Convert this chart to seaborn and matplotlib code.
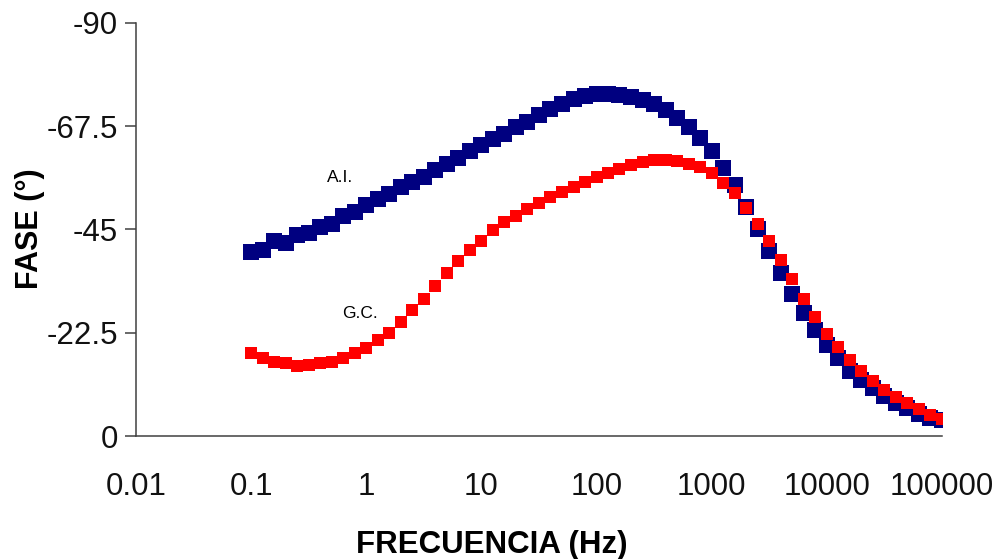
import matplotlib
matplotlib.use("Agg")
import matplotlib.pyplot as plt
import seaborn as sns
import pandas as pd

# Frequency grid (Hz), ten points per decade
freq_hz = [
    0.1, 0.126, 0.158, 0.2, 0.251, 0.316, 0.398, 0.501, 0.631, 0.794,
    1, 1.26, 1.58, 2.0, 2.51, 3.16, 3.98, 5.01, 6.31, 7.94,
    10, 12.6, 15.8, 20.0, 25.1, 31.6, 39.8, 50.1, 63.1, 79.4,
    100, 126, 158, 200, 251, 316, 398, 501, 631, 794,
    1000, 1259, 1585, 1995, 2512, 3162, 3981, 5012, 6310, 7943,
    10000, 12589, 15849, 19953, 25119, 31623, 39811, 50119, 63096, 79433,
    100000,
]

# Phase angle (degrees) for the A.I. sample
phase_ai = [
    -40.1, -40.4, -42.5, -42.1, -43.7, -44.2, -45.5, -46.2, -48.0, -48.8,
    -50.2, -51.7, -52.8, -54.2, -55.4, -56.4, -58.0, -59.3, -60.5, -62.1,
    -63.3, -64.6, -65.8, -67.3, -68.4, -69.9, -71.2, -72.3, -73.4, -74.1,
    -74.5, -74.5, -74.3, -73.9, -73.2, -72.2, -70.9, -69.3, -67.3, -65.0,
    -62.0, -58.4, -54.6, -49.9, -45.1, -40.3, -35.5, -31.0, -26.7, -23.0,
    -19.8, -16.9, -14.2, -12.2, -10.4, -8.7, -7.2, -6.0, -4.9, -4.0,
    -3.5,
]

# Phase angle (degrees) for the G.C. sample
phase_gc = [
    -18.1, -16.9, -16.2, -15.8, -15.3, -15.4, -15.8, -16.2, -16.9, -18.0,
    -19.1, -20.9, -22.5, -24.9, -27.4, -29.8, -32.6, -35.4, -38.1, -40.5,
    -42.5, -44.8, -46.6, -48.0, -49.5, -50.7, -52.0, -53.2, -54.2, -55.3,
    -56.4, -57.3, -58.2, -59.1, -59.6, -60.0, -60.0, -59.8, -59.3, -58.5,
    -57.3, -55.2, -53.0, -49.7, -46.2, -42.5, -38.3, -34.1, -29.8, -25.9,
    -22.3, -19.3, -16.5, -14.2, -12.0, -10.1, -8.5, -7.1, -5.8, -4.6,
    -3.6,
]

x_ticks = [0.01, 0.1, 1, 10, 100, 1000, 10000, 100000]
x_tick_labels = ["0.01", "0.1", "1", "10", "100", "1000", "10000", "100000"]
y_ticks = [0, -22.5, -45, -67.5, -90]
y_tick_labels = ["0", "-22.5", "-45", "-67.5", "-90"]

sns.set_theme(style="white")
plt.rcParams["font.family"] = ["Liberation Sans", "DejaVu Sans"]

df_ai = pd.DataFrame({"freq": freq_hz, "phase": phase_ai})
df_gc = pd.DataFrame({"freq": freq_hz, "phase": phase_gc})

fig = plt.figure(figsize=(9.95, 5.59), dpi=100)
ax = fig.add_axes([0.1367, 0.22, 0.81, 0.7394])

sns.scatterplot(data=df_ai, x="freq", y="phase", marker="s", s=125,
                color="#000080", edgecolor="#000080", linewidth=0, ax=ax)
sns.scatterplot(data=df_gc, x="freq", y="phase", marker="s", s=82,
                color="#FF0000", edgecolor="#FF0000", linewidth=0, ax=ax)

ax.set_xscale("log")
ax.set_xlim(0.01, 100000)
ax.set_ylim(0, -90)
ax.set_xticks(x_ticks)
ax.set_xticklabels(x_tick_labels)
ax.set_yticks(y_ticks)
ax.set_yticklabels(y_tick_labels)
ax.minorticks_off()

for side in ("top", "right"):
    ax.spines[side].set_visible(False)
for side in ("left", "bottom"):
    ax.spines[side].set_color("#404040")
    ax.spines[side].set_linewidth(1.1)

ax.tick_params(axis="x", direction="in", length=6, width=1.1, color="#404040",
               labelsize=22.5, pad=26, labelcolor="#111111")
ax.tick_params(axis="y", direction="out", length=8, width=1.1, color="#404040",
               labelsize=22.5, pad=5, labelcolor="#111111", left=True)

ax.set_xlabel("FRECUENCIA (Hz)", fontsize=22.5, fontweight="bold", color="black")
ax.set_ylabel("FASE (°)", fontsize=22, fontweight="bold", color="black")
ax.xaxis.set_label_coords(0.441, -0.227)
ax.yaxis.set_label_coords(-0.113, 0.502)

ax.text(0.253, 0.626, "A.I.", transform=ax.transAxes, fontsize=12.5,
        ha="center", va="center", color="black")
ax.text(0.278, 0.297, "G.C.", transform=ax.transAxes, fontsize=12.5,
        ha="center", va="center", color="black")

fig.savefig("out.png", dpi=100, facecolor="white")
